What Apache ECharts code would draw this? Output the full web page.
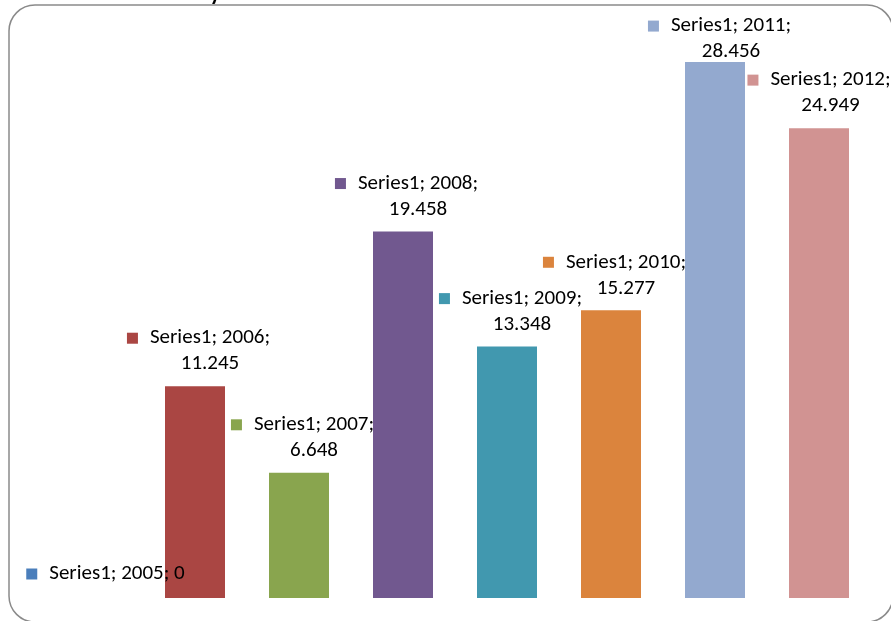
<!DOCTYPE html>
<html>
<head>
<meta charset="utf-8">
<script src="https://cdn.jsdelivr.net/npm/echarts@6/dist/echarts.min.js"></script>
<style>
html,body{margin:0;padding:0;background:#fff;}
#chart{width:891px;height:621px;}
</style>
</head>
<body>
<div id="chart"></div>
<script>
const seriesName = 'Series1';
const categories = ['2005', '2006', '2007', '2008', '2009', '2010', '2011', '2012'];
const values = [0, 11.245, 6.648, 19.458, 13.348, 15.277, 28.456, 24.949];
const colors = ['#4A7EBB', '#AA4643', '#89A54E', '#71588F', '#4198AF', '#DB843D', '#93A9CF', '#D19392'];

const FONT = 'Carlito, Lato, sans-serif';
// label nudges (padding shifts the label box content horizontally)
const labelTweaks = {
  0: { padding: [0, 0, 0, 29], distance: 11 },
  6: { padding: [0, 0, 0, 9], distance: -3 },
  7: { padding: [0, 0, 0, 0], distance: 9 }
};

function fmtNum(v) { return String(v); }

const data = values.map((v, i) => {
  const tw = labelTweaks[i] || {};
  const text1 = seriesName + '; ' + categories[i] + ';';
  const valStr = fmtNum(v);
  const single = valStr.length <= 1;
  const formatter = single
    ? '{k|}{g|}{t|' + text1 + ' ' + valStr + '}'
    : '{k|}{g|}{t|' + text1 + '}\n{s|}{t|' + valStr + '}';
  return {
    value: v,
    itemStyle: { color: colors[i] },
    label: {
      show: true,
      position: 'top',
      distance: tw.distance != null ? tw.distance : 9,
      padding: tw.padding || [0, 0, 0, 7],
      formatter: formatter,
      align: 'center',
      rich: {
        k: { width: 11, height: 11, backgroundColor: colors[i] },
        g: { width: 12, height: 11 },
        s: { width: 23, height: 11 },
        t: { fontFamily: FONT, fontSize: 21, color: '#000', lineHeight: 26 }
      }
    }
  };
});

const chart = echarts.init(document.getElementById('chart'), null, { renderer: 'canvas' });
chart.setOption({
  animation: false,
  backgroundColor: '#fff',
  grid: { left: 39, right: 20, top: 33, bottom: 23, containLabel: false },
  xAxis: {
    type: 'category',
    data: categories,
    show: false
  },
  yAxis: {
    type: 'value',
    min: 0,
    max: 30,
    show: false
  },
  graphic: [
    {
      type: 'rect',
      shape: { x: 9, y: 5, width: 884, height: 617, r: 26 },
      style: { fill: null, stroke: '#8a8a8a', lineWidth: 1.5 },
      silent: true,
      z: -10
    },
    {
      type: 'text',
      left: 210,
      top: -17,
      style: { text: 'y', font: 'bold 22px ' + FONT, fill: '#000' },
      silent: true
    }
  ],
  series: [{
    name: seriesName,
    type: 'bar',
    barWidth: 60,
    data: data,
    labelLayout: { hideOverlap: false }
  }]
});
</script>
</body>
</html>
